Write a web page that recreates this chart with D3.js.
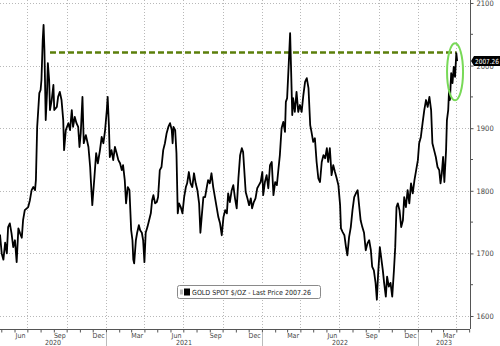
<!DOCTYPE html>
<html>
<head>
<meta charset="utf-8">
<script src="https://cdn.jsdelivr.net/npm/d3@7"></script>
<style>
  body { margin: 0; background: #fff; }
  svg text { font-family: "DejaVu Sans Condensed", "DejaVu Sans", sans-serif; }
</style>
</head>
<body>
<svg id="chart" width="500" height="346"></svg>
<script>
// gold spot price (date, $/oz)
const gold = [
  ["2020-04-28",1730],["2020-05-02",1700],["2020-05-06",1690],["2020-05-10",1717],["2020-05-14",1700],
  ["2020-05-17",1742],["2020-05-21",1748],["2020-05-25",1732],["2020-05-29",1710],["2020-06-02",1721],
  ["2020-06-06",1686],["2020-06-10",1740],["2020-06-14",1732],["2020-06-18",1725],["2020-06-21",1753],
  ["2020-06-25",1769],["2020-07-03",1774],["2020-07-07",1785],["2020-07-11",1801],["2020-07-15",1806],
  ["2020-07-19",1801],["2020-07-21",1817],["2020-07-24",1902],["2020-07-29",1956],["2020-08-01",1961],
  ["2020-08-03",1977],["2020-08-06",2041],["2020-08-08",2065],["2020-08-10",2025],["2020-08-13",1913],
  ["2020-08-16",1956],["2020-08-18",2004],["2020-08-21",1977],["2020-08-23",1929],["2020-08-27",1945],
  ["2020-08-31",1969],["2020-09-02",1929],["2020-09-08",1934],["2020-09-11",1950],["2020-09-15",1958],
  ["2020-09-19",1945],["2020-09-23",1913],["2020-09-25",1865],["2020-09-29",1897],["2020-10-05",1908],
  ["2020-10-09",1897],["2020-10-13",1929],["2020-10-16",1902],["2020-10-20",1918],["2020-10-24",1908],
  ["2020-10-28",1902],["2020-10-31",1870],["2020-11-03",1892],["2020-11-07",1950],["2020-11-10",1876],
  ["2020-11-15",1889],["2020-11-21",1870],["2020-11-25",1838],["2020-11-27",1812],["2020-11-30",1777],
  ["2020-12-05",1822],["2020-12-09",1860],["2020-12-13",1844],["2020-12-18",1865],["2020-12-22",1886],
  ["2020-12-26",1876],["2020-12-30",1897],["2021-01-03",1929],["2021-01-05",1950],["2021-01-08",1902],
  ["2021-01-10",1854],["2021-01-14",1865],["2021-01-18",1849],["2021-01-22",1870],["2021-01-26",1860],
  ["2021-01-30",1849],["2021-02-03",1844],["2021-02-07",1833],["2021-02-10",1841],["2021-02-14",1817],
  ["2021-02-17",1780],["2021-02-21",1806],["2021-02-25",1801],["2021-03-01",1737],["2021-03-04",1721],
  ["2021-03-06",1690],["2021-03-08",1684],["2021-03-12",1721],["2021-03-15",1733],["2021-03-19",1745],
  ["2021-03-22",1737],["2021-03-26",1733],["2021-03-29",1721],["2021-04-01",1686],["2021-04-04",1733],
  ["2021-04-08",1742],["2021-04-12",1753],["2021-04-16",1764],["2021-04-19",1785],["2021-04-22",1793],
  ["2021-04-26",1780],["2021-04-30",1782],["2021-05-03",1790],["2021-05-07",1833],["2021-05-11",1838],
  ["2021-05-15",1865],["2021-05-19",1876],["2021-05-23",1892],["2021-05-27",1902],["2021-05-31",1908],
  ["2021-06-04",1897],["2021-06-06",1876],["2021-06-08",1902],["2021-06-12",1897],["2021-06-15",1860],
  ["2021-06-18",1764],["2021-06-21",1780],["2021-06-25",1774],["2021-06-29",1764],["2021-07-03",1790],
  ["2021-07-07",1806],["2021-07-10",1812],["2021-07-14",1830],["2021-07-18",1812],["2021-07-22",1806],
  ["2021-07-26",1828],["2021-07-30",1812],["2021-08-03",1801],["2021-08-07",1780],["2021-08-10",1733],
  ["2021-08-13",1758],["2021-08-17",1790],["2021-08-21",1790],["2021-08-25",1806],["2021-08-28",1817],
  ["2021-09-01",1812],["2021-09-05",1828],["2021-09-09",1806],["2021-09-13",1790],["2021-09-17",1774],
  ["2021-09-21",1758],["2021-09-25",1748],["2021-09-29",1729],["2021-10-03",1758],["2021-10-07",1769],
  ["2021-10-11",1764],["2021-10-14",1796],["2021-10-18",1782],["2021-10-22",1800],["2021-10-26",1809],
  ["2021-10-30",1788],["2021-11-03",1772],["2021-11-07",1820],["2021-11-11",1857],["2021-11-15",1868],
  ["2021-11-18",1862],["2021-11-21",1830],["2021-11-24",1798],["2021-11-28",1788],["2021-12-02",1777],
  ["2021-12-06",1788],["2021-12-09",1772],["2021-12-13",1782],["2021-12-17",1788],["2021-12-21",1804],
  ["2021-12-25",1809],["2021-12-29",1814],["2022-01-02",1830],["2022-01-04",1793],["2022-01-08",1814],
  ["2022-01-12",1825],["2022-01-16",1804],["2022-01-20",1841],["2022-01-24",1846],["2022-01-28",1793],
  ["2022-02-01",1814],["2022-02-05",1809],["2022-02-08",1830],["2022-02-12",1857],["2022-02-16",1900],
  ["2022-02-20",1910],["2022-02-24",1894],["2022-02-26",1942],["2022-03-01",1948],["2022-03-05",2006],
  ["2022-03-08",2052],["2022-03-10",2001],["2022-03-13",1921],["2022-03-15",1948],["2022-03-19",1926],
  ["2022-03-23",1958],["2022-03-27",1926],["2022-03-31",1937],["2022-04-04",1926],["2022-04-08",1953],
  ["2022-04-12",1974],["2022-04-16",1980],["2022-04-20",1964],["2022-04-24",1905],["2022-04-27",1894],
  ["2022-05-01",1878],["2022-05-05",1884],["2022-05-09",1846],["2022-05-13",1820],["2022-05-17",1814],
  ["2022-05-21",1846],["2022-05-25",1857],["2022-05-29",1852],["2022-06-02",1868],["2022-06-05",1846],
  ["2022-06-09",1868],["2022-06-13",1825],["2022-06-17",1841],["2022-06-21",1830],["2022-06-25",1820],
  ["2022-06-29",1809],["2022-07-03",1777],["2022-07-05",1740],["2022-07-09",1734],["2022-07-13",1729],
  ["2022-07-17",1709],["2022-07-20",1697],["2022-07-24",1726],["2022-07-28",1742],["2022-08-01",1769],
  ["2022-08-05",1790],["2022-08-09",1796],["2022-08-13",1801],["2022-08-16",1780],["2022-08-20",1753],
  ["2022-08-24",1742],["2022-08-28",1733],["2022-09-01",1705],["2022-09-05",1716],["2022-09-09",1721],
  ["2022-09-13",1705],["2022-09-16",1679],["2022-09-20",1673],["2022-09-24",1653],["2022-09-27",1626],
  ["2022-09-30",1668],["2022-10-04",1710],["2022-10-07",1694],["2022-10-11",1673],["2022-10-14",1653],
  ["2022-10-18",1631],["2022-10-21",1663],["2022-10-25",1647],["2022-10-29",1653],["2022-11-02",1631],
  ["2022-11-06",1673],["2022-11-09",1710],["2022-11-12",1774],["2022-11-15",1780],["2022-11-19",1769],
  ["2022-11-23",1742],["2022-11-27",1753],["2022-11-30",1790],["2022-12-04",1774],["2022-12-08",1801],
  ["2022-12-12",1780],["2022-12-16",1812],["2022-12-20",1796],["2022-12-24",1817],["2022-12-28",1833],
  ["2023-01-01",1849],["2023-01-04",1876],["2023-01-08",1886],["2023-01-12",1908],["2023-01-16",1929],
  ["2023-01-20",1945],["2023-01-24",1934],["2023-01-28",1950],["2023-02-01",1929],["2023-02-04",1876],
  ["2023-02-08",1865],["2023-02-12",1854],["2023-02-16",1838],["2023-02-20",1833],["2023-02-23",1812],
  ["2023-02-26",1828],["2023-03-01",1854],["2023-03-04",1814],["2023-03-08",1865],["2023-03-10",1913],
  ["2023-03-13",1929],["2023-03-15",1961],["2023-03-17",1945],["2023-03-20",1988],["2023-03-23",1972],
  ["2023-03-26",1998],["2023-03-29",1982],["2023-04-01",2020],["2023-04-03",2007.26]
];

const yTicks = [1600, 1700, 1800, 1900, 2000, 2100];
const yMinorTicks = [1650, 1750, 1850, 1950, 2050];
const dateRange = ["2020-04-28", "2023-05-03"];
const priceRange = [1600, 2100];
const labelMonths = ["Mar", "Jun", "Sep", "Dec"];
const years = [2020, 2021, 2022, 2023];
const lastPrice = 2007.26;
const legendText = "GOLD SPOT $/OZ - Last Price 2007.26";
// dashed reference level and the circled spot
const refLine = {from: "2020-08-23", to: "2023-04-01", level: 2021};
const circled = {date: "2023-03-29", level: 1990};

const parse = d3.timeParse("%Y-%m-%d");
const data = gold.map(d => ({date: parse(d[0]), price: d[1]}));

const svg = d3.select("#chart");
const plotRight = 470, plotBottom = 329;

const x = d3.scaleTime().domain(dateRange.map(parse)).range([0, plotRight]);
const y = d3.scaleLinear().domain(priceRange).range([316, 3]);

// horizontal grid
svg.append("g").selectAll("line").data(yTicks).join("line")
    .attr("x1", 0).attr("x2", plotRight)
    .attr("y1", d => Math.round(y(d)) + 0.5).attr("y2", d => Math.round(y(d)) + 0.5)
    .attr("stroke", "#b8b8b8").attr("stroke-width", 1).attr("stroke-dasharray", "1,2");

// vertical grid on quarter starts
const quarters = d3.timeMonth.every(3).range(x.domain()[0], x.domain()[1]);
svg.append("g").selectAll("line").data(quarters).join("line")
    .attr("x1", d => Math.round(x(d)) + 0.5).attr("x2", d => Math.round(x(d)) + 0.5)
    .attr("y1", 0).attr("y2", plotBottom)
    .attr("stroke", "#b8b8b8").attr("stroke-width", 1).attr("stroke-dasharray", "1,2");

// x axis: monthly ticks
const xAxis = d3.axisBottom(x).ticks(d3.timeMonth.every(1)).tickSize(3).tickFormat("");
const gx = svg.append("g").attr("transform", `translate(0,${plotBottom + 0.5})`).call(xAxis);
gx.select(".domain").attr("stroke", "#555").attr("d", `M0,0H${plotRight}`);
gx.selectAll(".tick line").attr("stroke", "#555");

// month labels in the middle of Mar/Jun/Sep/Dec
const months = d3.timeMonth.range(x.domain()[0], x.domain()[1])
    .filter(d => [2, 5, 8, 11].includes(d.getMonth()));
svg.append("g").selectAll("text").data(months).join("text")
    .attr("x", d => x(d3.timeDay.offset(d, 14)))
    .attr("y", 338)
    .attr("text-anchor", "middle")
    .attr("font-size", 7)
    .attr("fill", "#444")
    .text(d => labelMonths[[2, 5, 8, 11].indexOf(d.getMonth())]);

// year separators and labels
const yearStarts = years.slice(1).map(yr => new Date(yr, 0, 1));
svg.append("g").selectAll("line").data(yearStarts).join("line")
    .attr("x1", d => Math.round(x(d)) + 0.5).attr("x2", d => Math.round(x(d)) + 0.5)
    .attr("y1", 333).attr("y2", 346)
    .attr("stroke", "#bbb");
svg.append("g").selectAll("text").data(years).join("text")
    .attr("x", yr => {
      const a = Math.max(0, x(new Date(yr, 0, 1)));
      const b = Math.min(plotRight, x(new Date(yr + 1, 0, 1)));
      return (a + b) / 2;
    })
    .attr("y", 344.5)
    .attr("text-anchor", "middle")
    .attr("font-size", 7)
    .attr("fill", "#444")
    .text(yr => yr);

// y axis on the right
const yAxis = d3.axisRight(y).tickValues(yTicks).tickSize(3).tickPadding(3).tickFormat(d3.format("d"));
const gy = svg.append("g").attr("transform", `translate(${plotRight + 0.5},0)`).call(yAxis);
gy.select(".domain").attr("stroke", "#555").attr("d", `M0,0V${plotBottom}`);
gy.selectAll(".tick line").attr("stroke", "#555");
gy.selectAll(".tick text").attr("font-size", 7.5).attr("fill", "#444")
    .attr("font-family", "DejaVu Sans Condensed, sans-serif");
svg.append("g").selectAll("line").data(yMinorTicks).join("line")
    .attr("x1", plotRight).attr("x2", plotRight + 3)
    .attr("y1", d => y(d)).attr("y2", d => y(d))
    .attr("stroke", "#555");

// dashed level line
svg.append("line")
    .attr("x1", x(parse(refLine.from))).attr("x2", x(parse(refLine.to)))
    .attr("y1", y(refLine.level)).attr("y2", y(refLine.level))
    .attr("stroke", "#5b7f0a").attr("stroke-width", 2.6).attr("stroke-dasharray", "6,3");

// price line
const line = d3.line().x(d => x(d.date)).y(d => y(d.price));
svg.append("path").datum(data)
    .attr("d", line)
    .attr("fill", "none")
    .attr("stroke", "#000")
    .attr("stroke-width", 1.8)
    .attr("stroke-linejoin", "round");

// green ellipse
svg.append("ellipse")
    .attr("cx", x(parse(circled.date))).attr("cy", y(circled.level))
    .attr("rx", 8).attr("ry", 28.5)
    .attr("fill", "none").attr("stroke", "#78d957").attr("stroke-width", 2);

// last price tag
const ly = y(lastPrice);
const tag = svg.append("g").attr("transform", `translate(${plotRight + 1},${ly})`);
tag.append("path").attr("d", "M0,0L3,-5H29V5H3Z").attr("fill", "#000");
tag.append("text").attr("x", 4).attr("y", 2.6).attr("font-size", 7)
    .attr("textLength", 24).attr("lengthAdjust", "spacingAndGlyphs")
    .attr("fill", "#fff").text(lastPrice.toFixed(2));

// legend
const lg = svg.append("g").attr("transform", "translate(177,285)");
lg.append("rect").attr("x", 0.5).attr("y", 0.5).attr("width", 143).attr("height", 13).attr("rx", 2)
    .attr("fill", "#fff").attr("stroke", "#8a8a8a");
lg.append("rect").attr("x", 3).attr("y", 4.5).attr("width", 3).attr("height", 5).attr("fill", "#bbb");
lg.append("rect").attr("x", 7).attr("y", 3.5).attr("width", 6).attr("height", 7).attr("fill", "#000");
lg.append("text").attr("x", 15).attr("y", 10).attr("font-size", 7).attr("fill", "#222").text(legendText);
</script>
</body>
</html>
